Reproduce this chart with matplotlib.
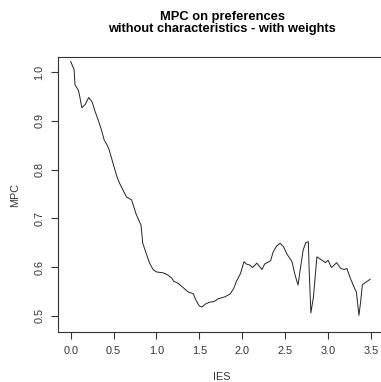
import matplotlib.pyplot as plt

# MPC estimates over the IES grid
ies = [0.00, 0.04, 0.05, 0.09, 0.11, 0.13, 0.17, 0.21, 0.25, 0.28,
       0.32, 0.36, 0.39, 0.42, 0.45, 0.49, 0.54, 0.57, 0.61, 0.65,
       0.71, 0.76, 0.82, 0.84, 0.88, 0.92, 0.96, 1.00, 1.08, 1.13,
       1.18, 1.20, 1.25, 1.31, 1.37, 1.43, 1.46, 1.50, 1.53, 1.57,
       1.62, 1.67, 1.72, 1.80, 1.86, 1.90, 1.93, 1.98, 2.02, 2.05,
       2.09, 2.12, 2.17, 2.23, 2.26, 2.33, 2.36, 2.40, 2.44, 2.48,
       2.52, 2.58, 2.61, 2.65, 2.67, 2.71, 2.74, 2.77, 2.78, 2.80,
       2.83, 2.87, 2.93, 2.97, 3.00, 3.04, 3.10, 3.15, 3.19, 3.22,
       3.26, 3.31, 3.33, 3.36, 3.38, 3.40, 3.45, 3.49]
mpc = [1.022, 1.005, 0.974, 0.963, 0.946, 0.927, 0.934, 0.948, 0.939, 0.922,
       0.902, 0.881, 0.861, 0.852, 0.840, 0.815, 0.785, 0.772, 0.758, 0.744,
       0.738, 0.710, 0.686, 0.649, 0.628, 0.608, 0.595, 0.590, 0.588, 0.584,
       0.577, 0.571, 0.567, 0.558, 0.549, 0.545, 0.532, 0.520, 0.518, 0.524,
       0.528, 0.529, 0.535, 0.539, 0.545, 0.556, 0.570, 0.587, 0.611, 0.606,
       0.604, 0.599, 0.608, 0.595, 0.606, 0.613, 0.631, 0.643, 0.649, 0.642,
       0.627, 0.611, 0.587, 0.563, 0.588, 0.635, 0.650, 0.652, 0.594, 0.506,
       0.539, 0.621, 0.614, 0.609, 0.614, 0.599, 0.609, 0.597, 0.595, 0.597,
       0.577, 0.556, 0.549, 0.501, 0.529, 0.564, 0.570, 0.575]

x_ticks = [0.0, 0.5, 1.0, 1.5, 2.0, 2.5, 3.0, 3.5]
y_ticks = [0.5, 0.6, 0.7, 0.8, 0.9, 1.0]

plt.rcParams['font.family'] = ['Liberation Sans', 'DejaVu Sans']

fig = plt.figure(figsize=(3.81, 3.82), dpi=100)
ax = fig.add_axes([0.153, 0.130, 0.86, 0.7215])

ax.plot(ies, mpc, color='#222222', linewidth=0.7)

ax.set_xlim(-0.1445, 3.675)
ax.set_ylim(0.466, 1.0318)
ax.set_xticks(x_ticks)
ax.set_xticklabels([f"{t:.1f}" for t in x_ticks])
ax.set_yticks(y_ticks)
ax.set_yticklabels([f"{t:.1f}" for t in y_ticks], rotation=90, va='center')

ax.tick_params(axis='both', direction='out', length=5, width=0.8,
               colors='#333333', labelsize=7.8, pad=5)
for side in ax.spines.values():
    side.set_color('#333333')
    side.set_linewidth(0.8)

ax.set_xlabel('IES', fontsize=7.8, color='#333333', labelpad=11)
ax.set_ylabel('MPC', fontsize=7.8, color='#333333', labelpad=10)
ax.set_title('MPC on preferences\nwithout characteristics - with weights',
             fontsize=9.3, fontweight='bold', pad=18, linespacing=1.0)

fig.savefig('out.png', dpi=100)
